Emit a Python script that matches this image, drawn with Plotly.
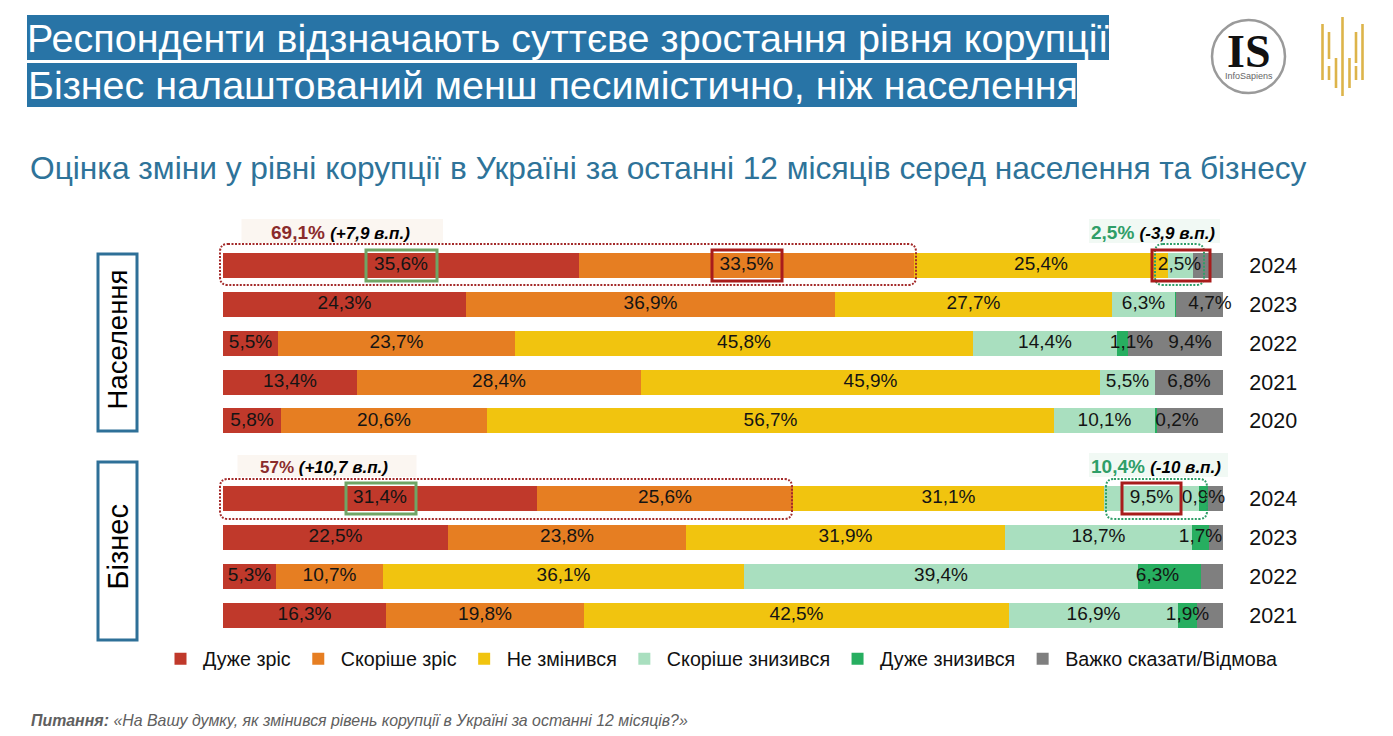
import plotly.graph_objects as go

W, H = 1393, 736
FONT = "Liberation Sans"

years = [2024, 2023, 2022, 2021, 2020, None, 2024, 2023, 2022, 2021]
series_names = ["Дуже зріс", "Скоріше зріс", "Не змінився", "Скоріше знизився", "Дуже знизився", "Важко сказати/Відмова"]
colors = ["#C0392B", "#E67E22", "#F1C40F", "#A9DFBF", "#27AE60", "#7F7F7F"]

very_up =   [35.6, 24.3, 5.5, 13.4, 5.8, None, 31.4, 22.5, 5.3, 16.3]
rather_up = [33.5, 36.9, 23.7, 28.4, 20.6, None, 25.6, 23.8, 10.7, 19.8]
same =      [25.4, 27.7, 45.8, 45.9, 56.7, None, 31.1, 31.9, 36.1, 42.5]
rather_dn = [2.5, 6.3, 14.4, 5.5, 10.1, None, 9.5, 18.7, 39.4, 16.9]
very_dn =   [0, 0.1, 1.1, 0, 0.2, None, 0.9, 1.7, 6.3, 1.9]
hard =      [3.0, 4.7, 9.4, 6.8, 6.6, None, 1.5, 1.4, 2.2, 2.6]
values = [very_up, rather_up, same, rather_dn, very_dn, hard]

# Segments that carry no printed label: (series index, row index)
unlabelled = {(4, 0), (5, 0), (4, 1), (4, 3), (5, 4), (5, 8), (5, 6), (5, 7), (5, 9)}
# Labels that the source nudges away from the segment centre, in percentage points
nudges = {(5, 1): 1.05, (4, 2): 0.9, (5, 2): 1.5, (4, 4): 2.1, (4, 8): -1.2, (3, 0): -0.1}


def X(px):
    return px / W


def Y(py):
    return 1 - py / H


fig = go.Figure()
rows = [i for i, y in enumerate(years) if y is not None]
for name, col, vals in zip(series_names, colors, values):
    fig.add_bar(x=vals, y=list(range(len(years))), orientation="h", name=name, marker=dict(color=col, line_width=0), hoverinfo="skip")

lx, ly, lt = [], [], []
for r in rows:
    acc = 0
    for s, vals in enumerate(values):
        v = vals[r]
        if (s, r) not in unlabelled:
            lx.append(acc + v / 2 + nudges.get((s, r), 0))
            ly.append(r)
            lt.append(f"{v:.1f}%".replace(".", ","))
        acc += v
fig.add_scatter(x=lx, y=ly, text=lt, mode="text", showlegend=False, cliponaxis=False, hoverinfo="skip",
                textposition="middle center", textfont=dict(family=FONT, size=19, color="#141414"))

shapes = []


def rect(x0, y0, x1, y1, fill=None, line=None, lw=0, layer="above", dash=None):
    shapes.append(dict(type="rect", xref="paper", yref="paper", x0=X(x0), x1=X(x1), y0=Y(y0), y1=Y(y1),
                       fillcolor=fill or "rgba(0,0,0,0)", layer=layer,
                       line=dict(color=line or "rgba(0,0,0,0)", width=lw, dash=dash or "solid")))


def rounded(x0, y0, x1, y1, color, r=8):
    p = (f"M{X(x0 + r)},{Y(y0)} L{X(x1 - r)},{Y(y0)} Q{X(x1)},{Y(y0)} {X(x1)},{Y(y0 + r)} "
         f"L{X(x1)},{Y(y1 - r)} Q{X(x1)},{Y(y1)} {X(x1 - r)},{Y(y1)} L{X(x0 + r)},{Y(y1)} "
         f"Q{X(x0)},{Y(y1)} {X(x0)},{Y(y1 - r)} L{X(x0)},{Y(y0 + r)} Q{X(x0)},{Y(y0)} {X(x0 + r)},{Y(y0)} Z")
    shapes.append(dict(type="path", xref="paper", yref="paper", path=p, layer="above",
                       line=dict(color=color, width=2, dash="2px,1.5px")))


BLUE = "#2874A6"
# title bands
rect(27, 15, 1109, 60, fill=BLUE, layer="below")
rect(27, 63, 1077, 107, fill=BLUE, layer="below")
# callout backgrounds
rect(241.5, 219, 443, 243, fill="#FBF6F1", layer="below")
rect(1089, 219, 1220, 243, fill="#F1F9F4", layer="below")
rect(237.5, 455, 416.5, 477, fill="#FBF6F1", layer="below")
rect(1089, 453, 1228, 477, fill="#F1F9F4", layer="below")
# group boxes
rect(98, 254, 137, 431, line="#2E7098", lw=3)
rect(98, 462, 137, 640, line="#2E7098", lw=3)
# dotted highlights
rounded(220, 244, 916, 285, "#A32A2A")
rounded(220, 479, 792, 519, "#A32A2A")
rounded(1155, 244, 1204, 285, "#2F9E68")
rounded(1106, 479, 1207, 519, "#2F9E68")
# solid highlights
for b in [(366, 250, 437, 281), (346, 483, 416, 514)]:
    rect(*b, line="#6FA565", lw=3)
for b in [(712, 250, 782, 281), (1152, 250, 1210, 281), (1122, 483, 1181, 514)]:
    rect(*b, line="#A81C1C", lw=3)
# logos
shapes.append(dict(type="circle", xref="paper", yref="paper", x0=X(1212), x1=X(1285), y0=Y(20), y1=Y(93),
                   line=dict(color="#9A9A9A", width=2.5), layer="above"))
for bx, y0, y1 in [(1322.5, 24, 80), (1329, 32, 59), (1329, 66, 80), (1336, 58, 88), (1342.5, 17, 96),
                   (1349.5, 58, 88), (1356, 32, 63), (1356, 66, 80), (1362.5, 24, 80)]:
    shapes.append(dict(type="line", xref="paper", yref="paper", x0=X(bx), x1=X(bx), y0=Y(y0), y1=Y(y1),
                       line=dict(color="#DDB44A", width=2.6), layer="above"))


def note(x, y, text, size, color="#000000", anchor="left", angle=0, family=FONT, **kw):
    return dict(xref="paper", yref="paper", x=X(x), y=Y(y), text=text, showarrow=False, xanchor=anchor,
                yanchor="middle", textangle=angle, font=dict(family=family, size=size, color=color), **kw)


RED_T = "<b><span style='color:#8A2B2B'>%s</span></b>"
GREEN_T = "<b><span style='color:#2F9E68'>%s</span></b>"
DELTA = " <b><i><span style='font-size:17px'>%s</span></i></b>"
annotations = [
    note(25.5, 85, "Бізнес налаштований менш песимістично, ніж населення", 39.5, "white"),
    note(28, 168, "Оцінка зміни у рівні корупції в Україні за останні 12 місяців серед населення та бізнесу", 31.7, "#2E7399"),
    note(117.5, 340, "Населення", 27.5, anchor="center", angle=-90),
    note(117.5, 547, "Бізнес", 29, anchor="center", angle=-90),
    note(269, 232, RED_T % "69,1%" + DELTA % "(+7,9 в.п.)", 19),
    note(1089, 232, GREEN_T % "2,5%" + DELTA % "(-3,9 в.п.)", 19),
    note(258, 467, RED_T % "57%" + DELTA % "(+10,7 в.п.)", 17),
    note(1089, 466, GREEN_T % "10,4%" + DELTA % "(-10 в.п.)", 19),
    note(28.5, 720, "<b><i>Питання:</i></b> <i>«На Вашу думку, як змінився рівень корупції в Україні за останні 12 місяців?»</i>", 15.9, "#606060"),
    note(1249, 53, "<b><span style='font-size:46px;font-family:Liberation Serif;fill:#111111'>IS</span></b><br>InfoSapiens", 9, "#666666", anchor="center"),
]

fig.update_layout(
    width=W, height=H, margin=dict(l=0, r=0, t=0, b=0), barmode="stack", bargap=0.357,
    paper_bgcolor="white", plot_bgcolor="white",
    title=dict(text="Респонденти відзначають суттєве зростання рівня корупції",
               x=X(27), xref="paper", xanchor="left", y=Y(38), yref="paper", yanchor="middle",
               font=dict(family=FONT, size=39.5, color="white"), pad=dict(t=0, l=0)),
    xaxis=dict(domain=[X(223), X(1223)], range=[0, 100], visible=False, fixedrange=True),
    yaxis=dict(domain=[Y(634.8), Y(245.9)], range=[9.5, -0.5], side="right", anchor="x",
               tickvals=rows, ticktext=[str(years[r]) for r in rows], showgrid=False, zeroline=False, showline=False,
               ticks="outside", ticklen=21, tickcolor="rgba(0,0,0,0)", tickfont=dict(family=FONT, size=21.5, color="#111111")),
    legend=dict(orientation="h", xref="paper", yref="paper", x=X(158), xanchor="left", y=Y(659), yanchor="middle",
                itemwidth=35, font=dict(family=FONT, size=19.7, color="#111111"), traceorder="normal", bgcolor="rgba(0,0,0,0)"),
    shapes=shapes, annotations=annotations,
)

fig.write_html("out.html", config={"displayModeBar": False},
               post_script="document.body.style.margin='0';document.body.style.overflow='hidden';")
